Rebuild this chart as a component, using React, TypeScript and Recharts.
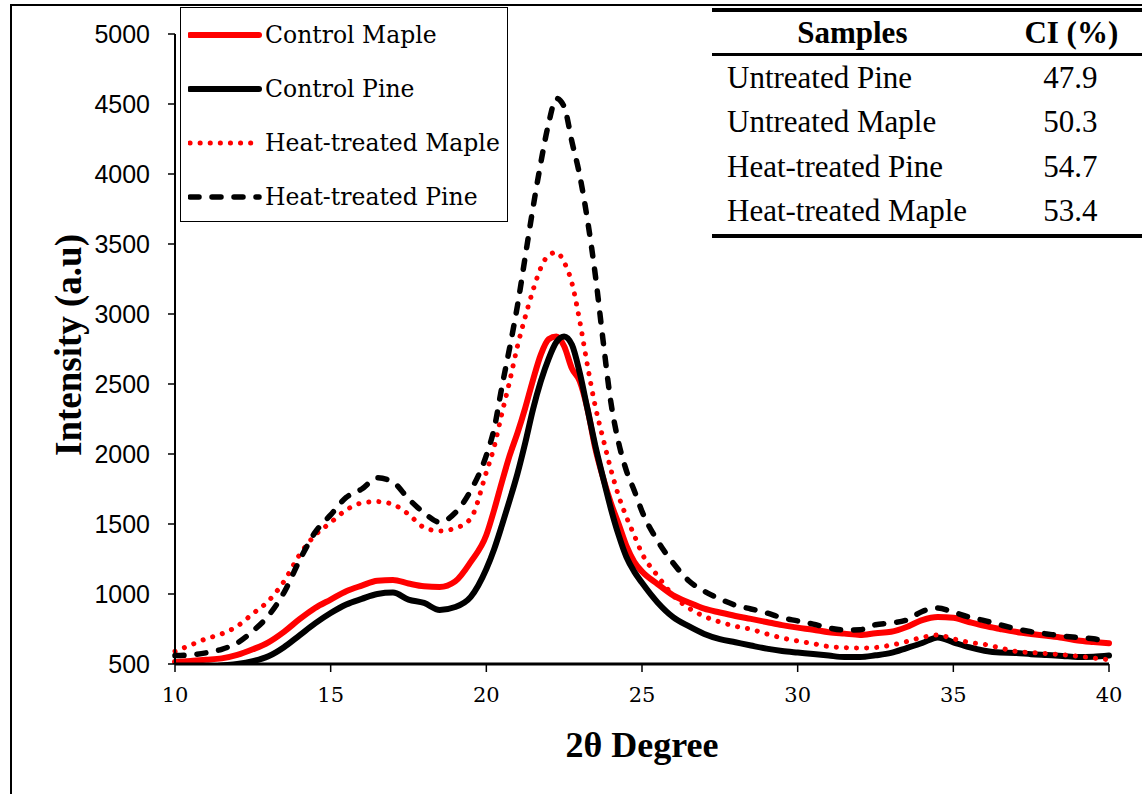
import { Legend, Line, LineChart, XAxis, YAxis } from "recharts";

// 2θ positions (deg); finer spacing around the crystalline peak
const twoTheta = [
  10, 10.5, 11, 11.5, 12, 12.5, 13, 13.5, 14, 14.5, 15, 15.5, 16, 16.5, 17, 17.5, 18, 18.5, 19, 19.5,
  20, 20.25, 20.5, 20.75, 21, 21.25, 21.5, 21.75, 22, 22.25, 22.5, 22.75, 23, 23.25, 23.5, 23.75,
  24, 24.25, 24.5, 24.75, 25, 25.5, 26, 26.5, 27, 27.5, 28, 28.5, 29, 29.5, 30, 30.5, 31, 31.5,
  32, 32.5, 33, 33.5, 34, 34.5, 35, 35.5, 36, 36.5, 37, 37.5, 38, 38.5, 39, 39.5, 40,
];

const controlMaple = [
  515, 522, 530, 540, 565, 605, 655, 730, 820, 900, 960, 1020, 1060, 1095, 1100, 1075, 1055, 1050, 1090, 1230,
  1421, 1600, 1800, 1990, 2150, 2330, 2530, 2710, 2820, 2840, 2770, 2610, 2520, 2320, 2040, 1830,
  1650, 1500, 1343, 1230, 1160, 1071, 990, 940, 895, 868, 843, 822, 800, 778, 760, 745, 727, 717,
  708, 720, 730, 764, 814, 836, 830, 800, 772, 750, 730, 715, 702, 688, 668, 657, 648,
];

const controlPine = [
  485, 480, 478, 490, 500, 520, 555, 620, 705, 790, 864, 925, 965, 1000, 1010, 960, 936, 886, 907, 980,
  1179, 1320, 1490, 1670, 1860, 2080, 2320, 2520, 2680, 2800, 2840, 2780, 2580, 2320, 2060, 1830,
  1610, 1420, 1264, 1160, 1080, 940, 835, 770, 715, 678, 655, 632, 610, 593, 582, 572, 560, 550,
  550, 562, 579, 614, 650, 690, 655, 620, 595, 582, 579, 570, 564, 558, 550, 552, 560,
];

const heatMaple = [
  590, 635, 680, 715, 770, 860, 950, 1090, 1280, 1420, 1510, 1600, 1650, 1660, 1640, 1570, 1475, 1450, 1470, 1540,
  1870, 2050, 2290, 2520, 2770, 2980, 3170, 3330, 3420, 3440, 3370, 3220, 2950, 2630, 2340, 2110,
  1890, 1700, 1550, 1420, 1290, 1130, 990, 900, 840, 800, 770, 748, 715, 686, 665, 645, 625, 617,
  614, 618, 635, 660, 690, 707, 680, 655, 640, 615, 590, 582, 575, 566, 555, 543, 530,
];

const heatPine = [
  560, 565, 580, 605, 650, 735, 845, 1010, 1240, 1440, 1565, 1690, 1750, 1830, 1800, 1680, 1580, 1514, 1580, 1740,
  1990, 2180, 2480, 2760, 3060, 3410, 3760, 4080, 4360, 4540, 4480, 4230, 3990, 3670, 3280, 2810,
  2370, 2080, 1880, 1740, 1590, 1380, 1221, 1095, 1020, 965, 920, 893, 865, 830, 808, 785, 758, 743,
  745, 780, 793, 814, 875, 900, 870, 835, 810, 780, 752, 730, 715, 700, 690, 680, 655,
];

const xTicks = [10, 15, 20, 25, 30, 35, 40];
const yTicks = [500, 1000, 1500, 2000, 2500, 3000, 3500, 4000, 4500, 5000];

const ciSamples = ["Untreated Pine", "Untreated Maple", "Heat-treated Pine", "Heat-treated Maple"];
const ciValues = ["47.9", "50.3", "54.7", "53.4"];

const SERIES = [
  { key: "controlMaple", name: "Control Maple", color: "#ff0000", width: 6, dash: undefined },
  { key: "controlPine", name: "Control Pine", color: "#000000", width: 6, dash: undefined },
  { key: "heatMaple", name: "Heat-treated Maple", color: "#ff0000", width: 5, dash: "0.1 10" },
  { key: "heatPine", name: "Heat-treated Pine", color: "#000000", width: 5.5, dash: "9 13" },
];

const rows = twoTheta.map((t, i) => ({
  t,
  controlMaple: controlMaple[i],
  controlPine: controlPine[i],
  heatMaple: heatMaple[i],
  heatPine: heatPine[i],
}));

function LegendBox() {
  return (
    <div
      style={{
        position: "relative",
        width: 328,
        height: 215,
        boxSizing: "border-box",
        border: "1.5px solid #000",
        background: "#fff",
      }}
    >
      {SERIES.map((s, i) => (
        <div
          key={s.key}
          style={{
            position: "absolute",
            left: 7,
            top: 27 + i * 54 - 15,
            height: 30,
            display: "flex",
            alignItems: "center",
          }}
        >
          <svg width={76} height={14}>
            <line
              x1={2}
              y1={7}
              x2={71}
              y2={7}
              stroke={s.color}
              strokeWidth={s.width}
              strokeDasharray={s.dash}
              strokeLinecap="round"
            />
          </svg>
          <span
            style={{
              marginLeft: 1,
              fontFamily: "'DejaVu Serif', serif",
              fontSize: 23.5,
              color: "#000",
              whiteSpace: "nowrap",
            }}
          >
            {s.name}
          </span>
        </div>
      ))}
    </div>
  );
}

function CiTable() {
  const font = "'Liberation Serif', 'Times New Roman', serif";
  return (
    <div
      style={{
        position: "absolute",
        left: 712,
        top: 8,
        width: 430,
        fontFamily: font,
        fontSize: 31,
        color: "#000",
        background: "#fff",
      }}
    >
      <div style={{ height: 4, background: "#000" }} />
      <div style={{ display: "flex", height: 41, alignItems: "center", fontWeight: "bold" }}>
        <div style={{ width: 286, textAlign: "center" }}>Samples</div>
        <div style={{ width: 144, textAlign: "center", paddingLeft: 8 }}>CI (%)</div>
      </div>
      <div style={{ height: 2.5, background: "#000" }} />
      {ciSamples.map((name, i) => (
        <div key={name} style={{ display: "flex", height: 44.5, alignItems: "center" }}>
          <div style={{ width: 286, paddingLeft: 15, boxSizing: "border-box", whiteSpace: "nowrap" }}>
            {name}
          </div>
          <div style={{ width: 144, textAlign: "center", paddingLeft: 2 }}>{ciValues[i]}</div>
        </div>
      ))}
      <div style={{ height: 4, background: "#000" }} />
    </div>
  );
}

export default function App() {
  return (
    <div
      style={{
        position: "fixed",
        left: 0,
        top: 0,
        width: 1142,
        height: 794,
        background: "#fff",
        overflow: "hidden",
      }}
    >
      <div
        style={{
          position: "absolute",
          left: 10,
          top: 4,
          width: 1200,
          height: 900,
          borderLeft: "2px solid #000",
          borderTop: "2px solid #000",
        }}
      />
      <LineChart
        width={1142}
        height={794}
        data={rows}
        margin={{ top: 34, right: 33, bottom: 30, left: 55 }}
      >
        <XAxis
          dataKey="t"
          type="number"
          domain={[10, 40]}
          ticks={xTicks}
          height={100}
          axisLine={{ stroke: "#000", strokeWidth: 3 }}
          tickLine={{ stroke: "#000", strokeWidth: 1.5 }}
          tickSize={8}
          tickMargin={15}
          tick={{ fill: "#000", fontSize: 21, fontFamily: "'DejaVu Serif', serif" }}
          label={({ viewBox }: any) => (
            <text
              x={viewBox.x + viewBox.width / 2}
              y={viewBox.y + 81}
              textAnchor="middle"
              dominantBaseline="central"
              fontFamily="'Liberation Serif', serif"
              fontWeight="bold"
              fontSize={36}
              fill="#000"
            >
              2θ Degree
            </text>
          )}
        />
        <YAxis
          type="number"
          domain={[500, 5000]}
          ticks={yTicks}
          allowDataOverflow
          width={120}
          axisLine={{ stroke: "#000", strokeWidth: 2 }}
          tickLine={{ stroke: "#000", strokeWidth: 1.5 }}
          tickSize={7}
          tickMargin={18}
          tick={{ fill: "#000", fontSize: 25, fontFamily: "'Liberation Sans', Arial, sans-serif" }}
          label={({ viewBox }: any) => {
            const cx = viewBox.x + 13;
            const cy = viewBox.y + viewBox.height / 2 - 4;
            return (
              <text
                x={cx}
                y={cy}
                transform={`rotate(-90 ${cx} ${cy})`}
                textAnchor="middle"
                dominantBaseline="central"
                fontFamily="'Liberation Serif', serif"
                fontWeight="bold"
                fontSize={37}
                fill="#000"
              >
                Intensity (a.u)
              </text>
            );
          }}
        />
        <Legend
          layout="vertical"
          align="center"
          verticalAlign="middle"
          content={() => <LegendBox />}
          wrapperStyle={{ left: 180, top: 7, width: 328, height: 215 }}
        />
        {SERIES.map((s) => (
          <Line
            key={s.key}
            dataKey={s.key}
            name={s.name}
            type="monotone"
            stroke={s.color}
            strokeWidth={s.width}
            strokeDasharray={s.dash}
            strokeLinecap="round"
            strokeLinejoin="round"
            dot={false}
            activeDot={false}
            isAnimationActive={false}
          />
        ))}
      </LineChart>
      <CiTable />
    </div>
  );
}
